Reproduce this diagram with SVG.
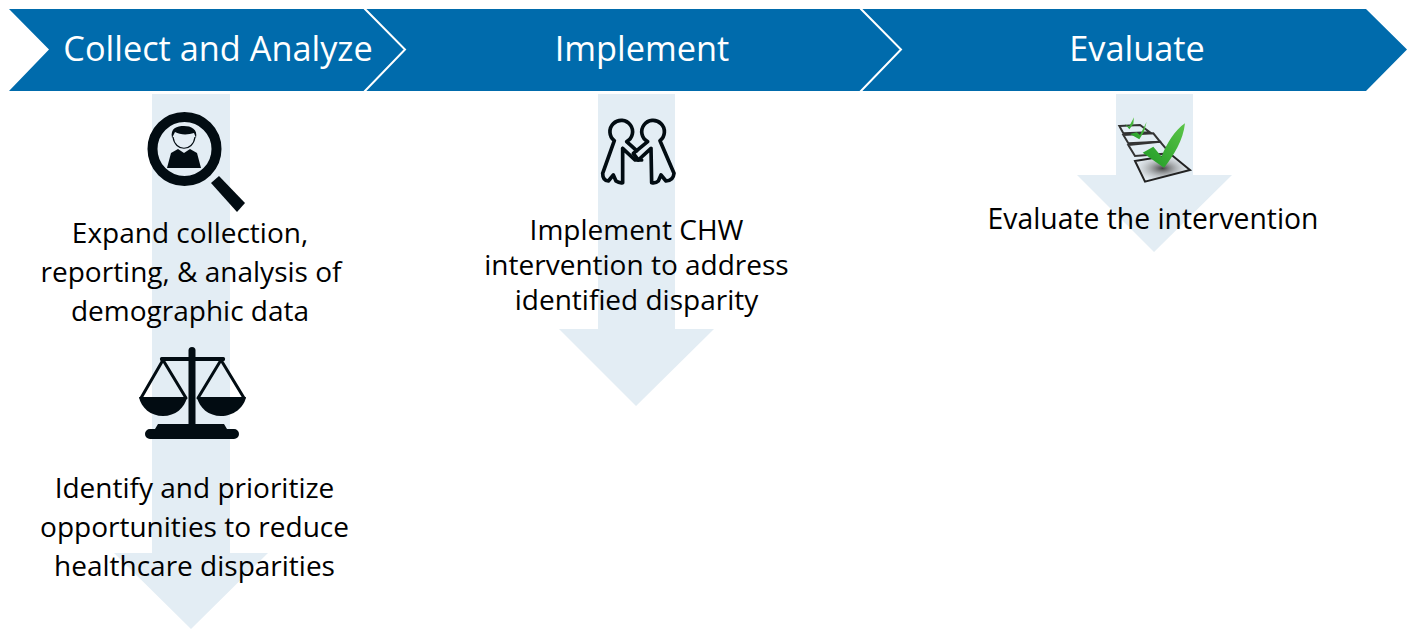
<svg xmlns="http://www.w3.org/2000/svg" width="1411" height="629" viewBox="0 0 1411 629">
<style>
.bg{fill:#fff}
.chev{fill:#006bac}
.sep{fill:none;stroke:#fff;stroke-width:2}
.down{fill:#e3edf4}
.h{font-family:"Open Sans","Noto Sans",sans-serif;font-size:34.300px;fill:#fff;text-anchor:middle}
.t{font-family:"Open Sans","Noto Sans",sans-serif;font-size:28px;fill:#000;text-anchor:middle}
.e{font-size:28.300px}
.ink{fill:#020c12}
.line{fill:none;stroke:#020c12;stroke-linecap:round;stroke-linejoin:round}
</style>
<defs>
<linearGradient id="g" x1="0" y1="1" x2="1" y2="0"><stop offset="0" stop-color="#1f9a25"/><stop offset="1" stop-color="#5cc548"/></linearGradient>
<radialGradient id="sh"><stop offset="0" stop-color="#444"/><stop offset="1" stop-color="#ddd" stop-opacity="0.2"/></radialGradient>
</defs>
<rect class="bg" width="1411" height="629"/>
<g id="connectors">
<path class="down" d="M152 94H230V553H268L191 629L114 553H152Z"/>
<path class="down" d="M598 94H675V329H714L636 406L559 329H598Z"/>
<path class="down" d="M1116 94H1193V175H1232L1154 252L1077 175H1116Z"/>
</g>
<g id="stage-evaluate"><path class="chev" d="M860 9H1366L1407 49.500L1366 91H860L901 49.500Z"/><text class="h" x="1137" y="61">Evaluate</text></g>
<g id="stage-implement"><path class="chev" d="M364 9H860L901 49.500L860 91H364L405 49.500Z"/><path class="sep" d="M860 8L901 49.500L860 92"/><text class="h" x="642" y="61">Implement</text></g>
<g id="stage-collect"><path class="chev" d="M9 9H364L405 49.500L364 91H9L49 49.500Z"/><path class="sep" d="M364 8L405 49.500L364 92"/><text class="h" x="218" y="61">Collect and Analyze</text></g>
<g id="icon-search">
<circle cx="184.500" cy="149" r="32" fill="none" stroke="#020c12" stroke-width="10"/>
<path class="ink" d="M211 183L219 176L245 203L237 212Z"/>
<path class="ink" d="M167 168L171 153L178 149L184 153L190 149L197 153L201 168Z"/>
<path class="ink" d="M172 138C170 128 177 126 184 126C191 126 198 129 196 138L194 133C188 135 180 135 175 132Z"/>
<path fill="none" stroke="#020c12" stroke-width="1.200" d="M173 137C175 152 193 152 195 137"/>
</g>
<g id="icon-scales">
<rect class="ink" x="188.500" y="347" width="7" height="80" rx="3.500"/>
<rect class="ink" x="160" y="357" width="65" height="4" rx="1.500"/>
<path class="line" stroke-width="3" d="M163 360L141 398M163 360L186 398M221 360L198 398M221 360L244 398"/>
<path class="ink" d="M139 397H187C185 408 175 416 163 416C151 416 141 408 139 397Z"/>
<path class="ink" d="M197 397H246C244 408 233 416 221 416C209 416 199 408 197 397Z"/>
<path class="ink" d="M155 429L158 424H224L227 429H234A5 5 0 0 1 234 439H150A5 5 0 0 1 150 429Z"/>
</g>
<g id="icon-handshake" transform="translate(580 110) scale(.3333)" fill="none" stroke="#020c12" stroke-width="11" stroke-linejoin="round" stroke-linecap="round">
<path d="M103 92A34 34 0 1 1 140 95L170 122M128 115L165 150L185 150M103 92L68 190Q68 212 85 213L100 195L108 213Q118 220 128 218L128 115"/>
<path d="M240 92A34 34 0 1 0 203 95L160 130L175 150L213 115L215 218Q228 220 235 213L243 195L258 213Q280 212 282 190L240 92"/>
</g>
<g id="icon-checklist" transform="translate(1090 100) scale(.3333)">
<g fill="none" stroke="#333" stroke-width="6">
<path d="M88 78L150 75L180 97L100 100Z"/>
<path d="M100 105L190 100L210 125L115 130Z"/>
<path d="M115 135L210 125L240 160L135 168Z"/>
</g>
<path d="M135 183L245 165L300 210L165 245Z" fill="url(#sh)" stroke="#222" stroke-width="6"/>
<path d="M105 72L117 80L132 52L130 72L118 88Z" fill="url(#g)"/>
<path d="M120 102L140 97L150 105L170 65L162 95L148 118Z" fill="url(#g)"/>
<path d="M158 158L190 140L215 170C230 130 255 90 285 70C280 120 250 170 222 203Z" fill="url(#g)"/>
</g>
<g id="step-expand"><text class="t" x="190" y="243">Expand collection,</text><text class="t" x="191" y="282">reporting, &amp; analysis of</text><text class="t" x="190" y="321">demographic data</text></g>
<g id="step-identify"><text class="t" x="194.500" y="498">Identify and prioritize</text><text class="t" x="194.500" y="537">opportunities to reduce</text><text class="t" x="194.500" y="576">healthcare disparities</text></g>
<g id="step-implement"><text class="t" x="636.500" y="240">Implement CHW</text><text class="t" x="636.500" y="275">intervention to address</text><text class="t" x="636.500" y="310">identified disparity</text></g>
<g id="step-evaluate"><text class="t e" x="1153" y="229">Evaluate the intervention</text></g>
</svg>
